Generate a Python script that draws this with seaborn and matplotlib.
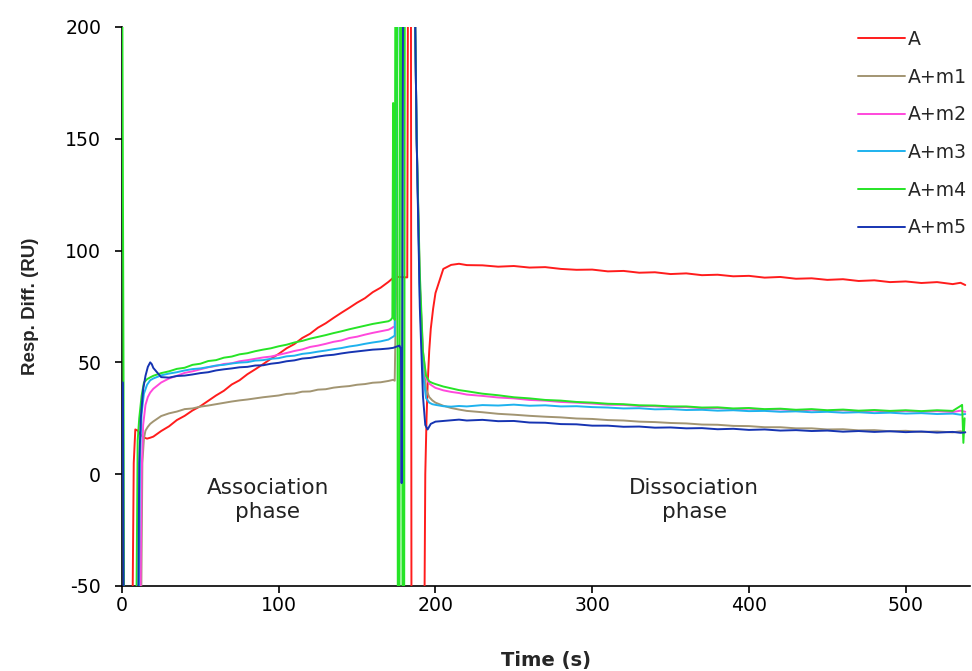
import matplotlib
matplotlib.use("Agg")
import matplotlib.pyplot as plt
import seaborn as sns
import pandas as pd

# ---------------- data ----------------
SERIES = ["A", "A+m1", "A+m2", "A+m3", "A+m4", "A+m5"]
COLORS = ["#ff1c1c", "#a29572", "#ff48dc", "#1eb2ee", "#26e426", "#1634b2"]

T_ASSOC = [20, 25, 30, 35, 40, 45, 50, 55, 60, 65, 70, 75, 80, 85, 90, 95, 100,
           105, 110, 115, 120, 125, 130, 135, 140, 145, 150, 155, 160, 165, 170]
T_DISS = [200, 205, 210, 215, 220, 230, 240, 250, 260, 270, 280, 290, 300, 310,
          320, 330, 340, 350, 360, 370, 380, 390, 400, 410, 420, 430, 440, 450,
          460, 470, 480, 490, 500, 510, 520, 530, 535]

# A
A_rise_t = [0, 6.5, 7.5, 8.5, 10, 12, 14, 16, 18]
A_rise_v = [-80, -80, 5, 20, 19.5, 17.6, 16.4, 15.9, 16.3]
A_assoc = [16.8, 19.3, 21.4, 24.2, 26.1, 28.5, 30.4, 32.8, 35.2, 37.3, 40.1, 42.0,
           44.7, 46.9, 49.2, 51.6, 53.8, 56.3, 58.2, 60.9, 62.8, 65.5, 67.5, 69.9,
           72.2, 74.4, 76.7, 78.7, 81.4, 83.4, 86.0]
A_inj_t = [173, 174, 182, 182.6, 184.3, 184.7, 192.8, 193.5, 194.3, 195, 196, 197, 198.5]
A_inj_v = [87.8, 88.3, 88.0, 260, 260, -80, -80, 0, 25, 40, 55, 65, 74]
A_diss = [81.0, 91.8, 93.6, 94.1, 93.5, 93.4, 92.8, 93.1, 92.4, 92.6, 91.8, 91.4,
          91.5, 90.7, 90.9, 90.1, 90.3, 89.5, 89.8, 89.0, 89.2, 88.5, 88.7, 87.9,
          88.2, 87.4, 87.6, 86.9, 87.2, 86.4, 86.7, 85.9, 86.2, 85.5, 85.9, 85.0, 85.6]
A_tail_t = [538]
A_tail_v = [84.6]

# A+m1
M1_rise_t = [0, 12, 13, 14, 15, 16.5, 18]
M1_rise_v = [-80, -80, 5, 16, 19.5, 21.2, 22.5]
M1_assoc = [23.6, 26.0, 27.2, 28.0, 29.1, 29.4, 30.2, 30.7, 31.3, 31.9, 32.5, 33.0,
            33.4, 33.9, 34.4, 34.8, 35.2, 35.9, 36.1, 36.9, 37.0, 37.8, 38.0, 38.7,
            39.1, 39.4, 40.0, 40.3, 40.9, 41.1, 41.7]
M1_inj_t = [173, 174, 175, 175.6, 186, 188, 190, 192, 194, 196, 198]
M1_inj_v = [42.2, 41.8, 88, 260, 260, 150, 85, 52, 38, 34.5, 33.0]
M1_diss = [32.0, 30.6, 29.6, 28.9, 28.3, 27.7, 27.0, 26.6, 26.1, 25.7, 25.4, 24.9,
           24.7, 24.2, 24.0, 23.5, 23.3, 22.9, 22.7, 22.2, 22.1, 21.6, 21.5, 21.0,
           21.0, 20.5, 20.5, 20.0, 20.1, 19.6, 19.7, 19.2, 19.4, 18.9, 19.1, 18.7, 19.2]
M1_tail_t = [538]
M1_tail_v = [18.8]

# A+m2
M2_rise_t = [0, 11.5, 12.5, 13.5, 15, 16.5, 18]
M2_rise_v = [-80, -80, 0, 22, 31, 34.5, 36.5]
M2_assoc = [38.2, 41.0, 42.8, 44.0, 45.3, 46.0, 46.9, 47.8, 48.4, 49.3, 49.6, 50.5,
            51.0, 51.6, 52.2, 52.6, 53.4, 54.2, 55.1, 55.8, 56.9, 57.5, 58.3, 59.2,
            59.8, 60.9, 61.5, 62.4, 63.2, 63.9, 64.6]
M2_inj_t = [172, 173, 174, 176, 186, 188, 190, 192, 194, 196, 198]
M2_inj_v = [65.3, 65.8, 66, 260, 260, 150, 85, 55, 43, 40.5, 39.5]
M2_diss = [38.6, 37.5, 36.8, 36.3, 35.6, 35.0, 34.3, 33.9, 33.2, 32.9, 32.3, 32.0,
           31.6, 31.1, 31.0, 30.5, 30.4, 30.0, 30.0, 29.5, 29.6, 29.1, 29.3, 28.8,
           29.0, 28.5, 28.8, 28.3, 28.6, 28.1, 28.4, 28.0, 28.3, 27.9, 28.2, 27.8, 28.4]
M2_tail_t = [538]
M2_tail_v = [27.9]

# A+m3
M3_rise_t = [0, 10.5, 11.5, 12.5, 14, 16, 18]
M3_rise_v = [-80, -80, 8, 27, 36, 40, 42]
M3_assoc = [42.8, 44.2, 45.0, 45.6, 46.4, 47.0, 47.3, 47.9, 48.6, 48.9, 49.5, 49.9,
            50.1, 50.8, 51.0, 51.6, 51.9, 52.7, 53.0, 53.8, 54.2, 54.8, 55.3, 55.9,
            56.4, 57.1, 57.6, 58.3, 58.9, 59.4, 60.2]
M3_inj_t = [173, 174, 176.5, 186, 188, 190, 192, 194, 196, 198]
M3_inj_v = [61.5, 62, 260, 260, 150, 80, 45, 34, 32, 31.3]
M3_diss = [31.0, 30.4, 30.2, 30.5, 30.3, 30.9, 30.7, 31.1, 30.6, 30.8, 30.3, 30.4,
           30.0, 29.8, 29.4, 29.5, 29.0, 29.1, 28.7, 28.8, 28.4, 28.6, 28.2, 28.3,
           27.9, 28.1, 27.7, 27.9, 27.5, 27.7, 27.3, 27.5, 27.1, 27.3, 26.9, 27.1, 26.6]
M3_tail_t = [538]
M3_tail_v = [26.9]

# A+m4
M4_rise_t = [0, 1.0, 1.3, 9, 10, 11, 12.5, 14, 16, 18]
M4_rise_v = [260, 41, -80, -80, 15, 25, 35, 41, 42.5, 43.3]
M4_assoc = [44.0, 45.2, 46.0, 47.1, 47.6, 48.9, 49.4, 50.6, 51.0, 52.1, 52.6, 53.6,
            54.1, 55.0, 55.7, 56.3, 57.2, 57.9, 58.9, 59.6, 60.6, 61.4, 62.2, 63.1,
            63.9, 64.8, 65.6, 66.4, 67.2, 67.8, 68.4]
M4_inj_t = [171.5, 172.5, 173, 173.5, 174, 174.5, 175.5, 176, 177, 177.5, 178.5, 179,
            180, 180.5, 186, 188, 190, 192, 194, 196, 198]
M4_inj_v = [69, 70, 166, 70, 69, 260, 260, -80, -80, 260, 260, -80, -80, 260, 260,
            150, 90, 55, 44, 41.5, 40.8]
M4_diss = [40.3, 39.2, 38.4, 37.6, 37.1, 36.0, 35.3, 34.4, 33.9, 33.2, 32.9, 32.3,
           32.0, 31.5, 31.3, 30.8, 30.7, 30.3, 30.3, 29.8, 29.9, 29.4, 29.6, 29.1,
           29.3, 28.8, 29.1, 28.6, 28.9, 28.4, 28.7, 28.3, 28.6, 28.2, 28.6, 28.3, 30.5]
M4_tail_t = [536, 536.8, 537.6]
M4_tail_v = [31, 14, 25]

# A+m5
M5_rise_t = [0, 0.6, 1.2, 10.2, 11, 12, 13.5, 15, 16.5, 18, 19]
M5_rise_v = [41, 41, -80, -80, 5, 25, 38, 44, 48, 50, 49.2]
M5_assoc = [47.5, 43.4, 43.2, 43.9, 44.1, 44.6, 45.2, 45.6, 46.4, 46.9, 47.3, 47.8,
            48.0, 48.6, 48.7, 49.4, 49.8, 50.5, 50.9, 51.7, 52.0, 52.6, 53.1, 53.4,
            54.0, 54.5, 54.9, 55.3, 55.7, 55.9, 56.2]
M5_inj_t = [173, 175, 177, 178, 178.4, 178.8, 179.5, 186, 188, 190, 192, 193.5, 195, 197]
M5_inj_v = [56.5, 57, 57.5, 56, -4, 57, 260, 260, 150, 75, 35, 22, 20, 22.5]
M5_diss = [23.5, 23.8, 24.1, 24.4, 24.0, 24.3, 23.7, 23.8, 23.1, 23.0, 22.4, 22.3,
           21.7, 21.7, 21.2, 21.3, 20.8, 20.9, 20.5, 20.6, 20.1, 20.3, 19.8, 20.0,
           19.5, 19.7, 19.3, 19.5, 19.0, 19.3, 18.9, 19.2, 18.8, 19.1, 18.6, 18.9, 18.5]
M5_tail_t = [538]
M5_tail_v = [18.7]

PARTS = {
    "A": (A_rise_t, A_rise_v, A_assoc, A_inj_t, A_inj_v, A_diss, A_tail_t, A_tail_v),
    "A+m1": (M1_rise_t, M1_rise_v, M1_assoc, M1_inj_t, M1_inj_v, M1_diss, M1_tail_t, M1_tail_v),
    "A+m2": (M2_rise_t, M2_rise_v, M2_assoc, M2_inj_t, M2_inj_v, M2_diss, M2_tail_t, M2_tail_v),
    "A+m3": (M3_rise_t, M3_rise_v, M3_assoc, M3_inj_t, M3_inj_v, M3_diss, M3_tail_t, M3_tail_v),
    "A+m4": (M4_rise_t, M4_rise_v, M4_assoc, M4_inj_t, M4_inj_v, M4_diss, M4_tail_t, M4_tail_v),
    "A+m5": (M5_rise_t, M5_rise_v, M5_assoc, M5_inj_t, M5_inj_v, M5_diss, M5_tail_t, M5_tail_v),
}

rows = []
for name in SERIES:
    rt, rv, av, it, iv, dv, tt, tv = PARTS[name]
    ts = list(rt) + T_ASSOC + list(it) + T_DISS + list(tt)
    vs = list(rv) + list(av) + list(iv) + list(dv) + list(tv)
    for k, (t, v) in enumerate(zip(ts, vs)):
        rows.append({"series": name, "order": k, "Time": t, "Resp": v})
df = pd.DataFrame(rows)

# ---------------- plot ----------------
sns.set_style("ticks")
plt.rcParams["font.family"] = ["DejaVu Sans"]
plt.rcParams["axes.unicode_minus"] = False

fig = plt.figure(figsize=(9.72, 6.71), dpi=100)
ax = fig.add_axes([0.1255, 0.1267, 0.8724, 0.8331])

sns.lineplot(data=df, x="Time", y="Resp", hue="series", hue_order=SERIES,
             palette=dict(zip(SERIES, COLORS)), sort=False, estimator=None,
             linewidth=1.4, ax=ax, zorder=3)

ax.set_xlim(0, 541)
ax.set_ylim(-50, 200)
ax.set_xticks([0, 100, 200, 300, 400, 500])
ax.set_yticks([-50, 0, 50, 100, 150, 200])
ax.tick_params(axis="both", labelsize=13.6, length=5, width=1.2, direction="out",
               colors="black")
ax.tick_params(axis="y", pad=10)
ax.tick_params(axis="x", pad=2)
for side in ["left", "bottom"]:
    ax.spines[side].set_linewidth(1.2)
    ax.spines[side].set_color("black")
sns.despine(ax=ax)

ax.set_xlabel("Time (s)", fontsize=14.1, fontweight="bold", labelpad=26)
ax.set_ylabel("Resp. Diff. (RU)", fontsize=13.5, fontweight="bold", labelpad=19,
              fontfamily="Liberation Sans")

ax.text(93, -11.6, "Association\nphase", ha="center", va="center", fontsize=15.5,
        color="#222222", linespacing=1.25)
ax.text(365, -11.6, "Dissociation\nphase", ha="center", va="center", fontsize=15.5,
        color="#222222", linespacing=1.25)

handles, labels = ax.get_legend_handles_labels()
ax.legend(handles, labels, loc="upper right", bbox_to_anchor=(1.0, 1.0),
          frameon=False, fontsize=13.6, handlelength=2.5, handletextpad=0.16,
          labelspacing=0.99, borderaxespad=0.0, borderpad=0.15)

fig.savefig("out.png", dpi=100)
